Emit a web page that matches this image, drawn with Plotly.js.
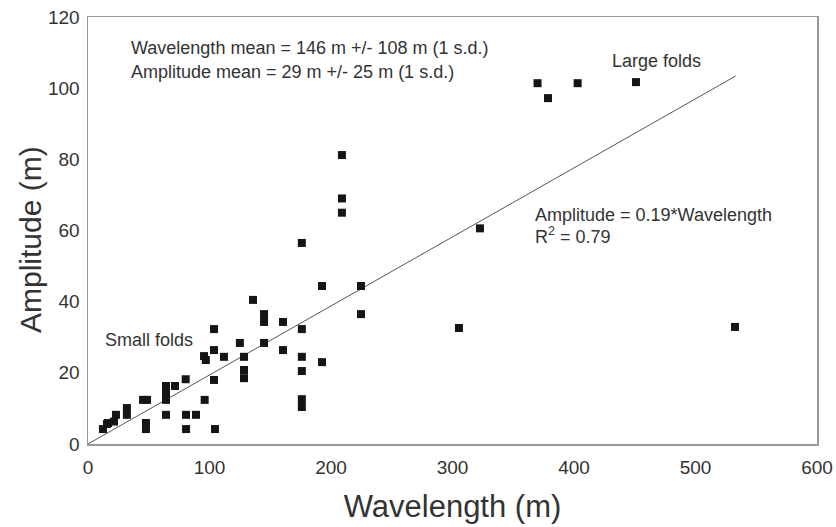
<!DOCTYPE html>
<html>
<head>
<meta charset="utf-8">
<script src="https://cdn.plot.ly/plotly-3.0.1.min.js"></script>
<style>html,body{margin:0;padding:0;background:#fff;}#chart{width:836px;height:527px;}</style>
</head>
<body>
<div id="chart"></div>
<script>
// Fold measurements: wavelength (m) and amplitude (m)
const wavelength = [
  12.3, 15.6, 16.5, 21.4, 23.0, 32.0, 32.0, 45.3, 48.6, 47.7, 47.7,
  64.2, 64.2, 64.2, 64.2, 71.6, 80.4, 80.7, 80.7, 88.9, 95.5, 97.0, 96.0,
  103.7, 103.7, 103.7, 104.5, 111.9, 125.0, 128.4, 128.4, 128.4, 135.8,
  144.9, 144.9, 144.9, 160.5, 160.5,
  176.0, 176.0, 176.0, 176.0, 176.0, 176.0,
  192.6, 192.6, 209.0, 209.0, 209.0, 224.7, 224.7,
  305.3, 322.6, 370.0, 378.6, 403.0, 451.0, 532.5
];
const amplitude = [
  4.2, 5.6, 5.9, 6.3, 8.2, 10.1, 8.2, 12.4, 12.4, 5.9, 4.2,
  16.3, 14.3, 12.4, 8.2, 16.3, 18.2, 8.2, 4.2, 8.2, 24.7, 23.6, 12.4,
  32.3, 26.4, 18.0, 4.2, 24.5, 28.4, 24.5, 20.8, 18.5, 40.5,
  36.5, 34.3, 28.4, 34.3, 26.4,
  56.5, 32.3, 24.5, 20.5, 12.6, 10.4,
  44.4, 23.0, 81.2, 69.0, 65.0, 44.4, 36.5,
  32.6, 60.6, 101.4, 97.2, 101.4, 101.7, 32.9
];
// Linear fit through origin: Amplitude = slope * Wavelength
const fitSlope = 0.194;
const fitRange = [0, 533];
const fitAmp = fitRange.map(w => fitSlope * w);

const xTicks = [0, 100, 200, 300, 400, 500, 600];
const yTicks = [0, 20, 40, 60, 80, 100, 120];

const font = 'Liberation Sans, Arial, sans-serif';
const txtColor = '#333';

const traces = [
  {
    x: fitRange, y: fitAmp, type: 'scatter', mode: 'lines',
    line: {color: '#555', width: 1}, hoverinfo: 'skip'
  },
  {
    x: wavelength, y: amplitude, type: 'scatter', mode: 'markers',
    marker: {symbol: 'square', size: 8, color: '#151515'}
  }
];

const ann = (x, y, text, xanchor) => ({
  x: x, y: y, xref: 'x', yref: 'y', text: text, showarrow: false,
  xanchor: xanchor || 'left', yanchor: 'middle',
  font: {family: font, size: 18, color: txtColor}
});

const layout = {
  width: 836, height: 527,
  margin: {l: 88, r: 19, t: 17, b: 83},
  paper_bgcolor: '#fff', plot_bgcolor: '#fff',
  showlegend: false,
  xaxis: {
    range: [0, 600], tickvals: xTicks, ticktext: xTicks.map(String),
    showgrid: false, zeroline: false, showline: true, mirror: true,
    linecolor: '#999', linewidth: 1.5, ticks: '', ticklabelstandoff: 6,
    tickfont: {family: font, size: 19, color: txtColor},
    title: {text: 'Wavelength (m)', font: {family: font, size: 31, color: txtColor}, standoff: 18}
  },
  yaxis: {
    range: [0, 120], tickvals: yTicks, ticktext: yTicks.map(String),
    showgrid: false, zeroline: false, showline: true, mirror: true,
    linecolor: '#999', linewidth: 1.5, ticks: '', ticklabelstandoff: 3,
    tickfont: {family: font, size: 19, color: txtColor}
  },
  annotations: [
    ann(34, 111.3, 'Wavelength mean = 146 m +/- 108 m (1 s.d.)'),
    ann(34, 104.6, 'Amplitude mean = 29 m +/- 25 m (1 s.d.)'),
    ann(430, 107.7, 'Large folds'),
    ann(366, 64.4, 'Amplitude = 0.19*Wavelength'),
    ann(366, 58.6, 'R<sup>2</sup> = 0.79'),
    ann(12, 29.2, 'Small folds'),
    {
      x: 0, y: 0, xref: 'paper', yref: 'paper', text: 'Amplitude (m)', showarrow: false,
      textangle: -90, xanchor: 'center', yanchor: 'middle',
      font: {family: font, size: 30, color: txtColor}
    }
  ]
};
// place the y title (pixel centre 30, 240) in paper coordinates
const plotW = 836 - 88 - 19, plotH = 527 - 17 - 83;
const yt = layout.annotations[layout.annotations.length - 1];
yt.x = (30 - 88) / plotW;
yt.y = (527 - 83 - 240) / plotH;

Plotly.newPlot('chart', traces, layout, {displayModeBar: false, staticPlot: true});
</script>
</body>
</html>
